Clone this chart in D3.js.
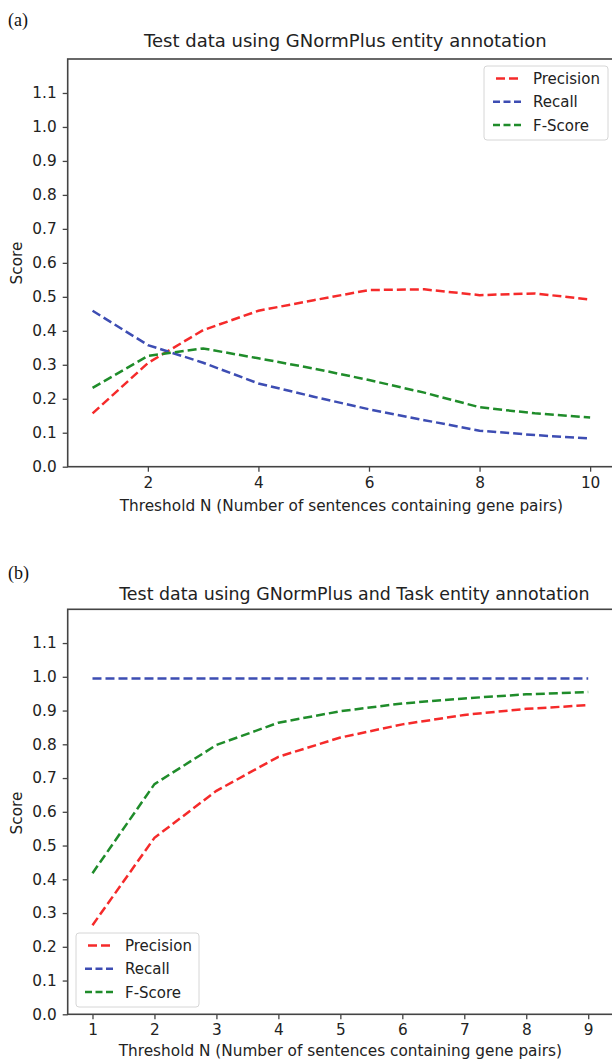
<!DOCTYPE html>
<head>
    <script src="https://d3js.org/d3.v7.min.js"></script>
    <title>Test data scores</title>
    <style>
        body { margin: 0; background: white; }
    </style>
</head>
<body>
<svg width="612" height="1061" class="fig" style="background-color: white"></svg>
<script>
    // panel (a) data
    const thresholdsA = [1, 2, 3, 4, 5, 6, 7, 8, 9, 10];
    const precisionA = [0.157, 0.305, 0.402, 0.459, 0.490, 0.520, 0.522, 0.505, 0.510, 0.492];
    const recallA = [0.459, 0.358, 0.306, 0.245, 0.206, 0.169, 0.137, 0.106, 0.093, 0.083];
    const fscoreA = [0.232, 0.326, 0.348, 0.319, 0.289, 0.255, 0.218, 0.175, 0.157, 0.145];
    const xTicksA = [2, 4, 6, 8, 10];

    // panel (b) data
    const thresholdsB = [1, 2, 3, 4, 5, 6, 7, 8, 9];
    const precisionB = [0.264, 0.523, 0.662, 0.763, 0.820, 0.859, 0.887, 0.905, 0.916];
    const recallB = [0.995, 0.995, 0.995, 0.995, 0.995, 0.995, 0.995, 0.995, 0.995];
    const fscoreB = [0.418, 0.682, 0.798, 0.864, 0.898, 0.921, 0.936, 0.948, 0.955];
    const xTicksB = [1, 2, 3, 4, 5, 6, 7, 8, 9];

    const yTicks = [0.0, 0.1, 0.2, 0.3, 0.4, 0.5, 0.6, 0.7, 0.8, 0.9, 1.0, 1.1];
    const seriesNames = ["Precision", "Recall", "F-Score"];
    const colors = {"Precision": "#f52a2a", "Recall": "#3d4db3", "F-Score": "#1f8c2a"};
    const FONT = "'DejaVu Sans', Verdana, sans-serif";

    const svg = d3.select(".fig");

    function drawPanel(opt) {
        const span = opt.xs[opt.xs.length - 1] - opt.xs[0];
        const x = d3.scaleLinear()
            .domain([opt.xs[0] - 0.05 * span, opt.xs[opt.xs.length - 1] + 0.05 * span])
            .range([opt.left, opt.right]);
        const y = d3.scaleLinear().domain([0, 1.2]).range([opt.bottom, opt.top]);

        const g = svg.append("g");

        // letter label
        svg.append("text")
            .attr("x", 8).attr("y", opt.letterY)
            .style("font-family", "'Liberation Serif', 'Times New Roman', serif")
            .style("font-size", "18px")
            .style("fill", "#111")
            .text(opt.letter);

        // title
        g.append("text")
            .attr("x", (opt.left + opt.right) / 2 + opt.titleShift)
            .attr("y", opt.titleY)
            .attr("text-anchor", "middle")
            .style("font-family", FONT)
            .style("font-size", opt.titleSize)
            .style("fill", "#222")
            .text(opt.title);

        // axes
        const xAxis = g.append("g")
            .attr("transform", "translate(0," + opt.bottom + ")")
            .call(d3.axisBottom(x).tickValues(opt.xTicks).tickSize(5).tickPadding(5).tickFormat(d3.format("d")));
        const yAxis = g.append("g")
            .attr("transform", "translate(" + opt.left + ",0)")
            .call(d3.axisLeft(y).tickValues(yTicks).tickSize(5).tickPadding(6).tickFormat(d3.format(".1f")));
        [xAxis, yAxis].forEach(function(a){
            a.attr("font-family", null).attr("font-size", null);
            a.select(".domain").remove();
            a.selectAll(".tick line").attr("stroke", "#444").attr("stroke-width", 1.3);
            a.selectAll(".tick text")
                .style("font-family", FONT)
                .style("font-size", "15.3px")
                .style("fill", "#222");
        });

        // frame
        g.append("rect")
            .attr("x", opt.left).attr("y", opt.top)
            .attr("width", opt.right - opt.left).attr("height", opt.bottom - opt.top)
            .attr("fill", "none").attr("stroke", "#444").attr("stroke-width", 1.6);

        // axis labels
        g.append("text")
            .attr("x", (opt.left + opt.right) / 2)
            .attr("y", opt.xLabelY)
            .attr("text-anchor", "middle")
            .style("font-family", FONT)
            .style("font-size", "15.3px")
            .style("fill", "#222")
            .text("Threshold N (Number of sentences containing gene pairs)");
        g.append("text")
            .attr("transform", "translate(22," + opt.scoreY + ") rotate(-90)")
            .attr("text-anchor", "middle")
            .style("font-family", FONT)
            .style("font-size", "15.3px")
            .style("fill", "#222")
            .text("Score");

        // lines
        const line = d3.line()
            .x(function(d){ return x(d[0]); })
            .y(function(d){ return y(d[1]); });
        seriesNames.forEach(function(name){
            const vals = opt.series[name];
            g.append("path")
                .datum(opt.xs.map(function(v, i){ return [v, vals[i]]; }))
                .attr("d", line)
                .attr("fill", "none")
                .attr("stroke", colors[name])
                .attr("stroke-width", 2.5)
                .attr("stroke-dasharray", "9,4");
        });

        // legend
        const lg = g.append("g").attr("transform", "translate(" + opt.legendX + "," + opt.legendY + ")");
        lg.append("rect")
            .attr("x", 0).attr("y", 0)
            .attr("width", opt.legendW).attr("height", 74)
            .attr("rx", 3)
            .attr("fill", "white").attr("fill-opacity", 0.8)
            .attr("stroke", "#d6d6d6").attr("stroke-width", 1);
        seriesNames.forEach(function(name, i){
            const cy = 12.5 + i * 23.3;
            const twoDash = name === "Precision";
            lg.append("line")
                .attr("x1", twoDash ? 12 : 9).attr("x2", twoDash ? 34 : 37)
                .attr("y1", cy).attr("y2", cy)
                .attr("stroke", colors[name])
                .attr("stroke-width", 2.5)
                .attr("stroke-dasharray", twoDash ? "9,4" : "7,3.5");
            lg.append("text")
                .attr("x", 49).attr("y", cy + 5.5)
                .style("font-family", FONT)
                .style("font-size", "15px")
                .style("fill", "#222")
                .text(name);
        });
    }

    drawPanel({
        letter: "(a)", letterY: 26,
        title: "Test data using GNormPlus entity annotation", titleY: 47, titleShift: 4, titleSize: "18px",
        left: 67.7, right: 615, top: 59, bottom: 466.7,
        xs: thresholdsA, xTicks: xTicksA,
        series: {"Precision": precisionA, "Recall": recallA, "F-Score": fscoreA},
        xLabelY: 511, scoreY: 263,
        legendX: 484, legendY: 66, legendW: 124
    });

    drawPanel({
        letter: "(b)", letterY: 579,
        title: "Test data using GNormPlus and Task entity annotation", titleY: 600, titleShift: 14, titleSize: "17.4px",
        left: 67.7, right: 613, top: 609.3, bottom: 1014.3,
        xs: thresholdsB, xTicks: xTicksB,
        series: {"Precision": precisionB, "Recall": recallB, "F-Score": fscoreB},
        xLabelY: 1056, scoreY: 813,
        legendX: 76, legendY: 933, legendW: 123
    });
</script>
</body>
